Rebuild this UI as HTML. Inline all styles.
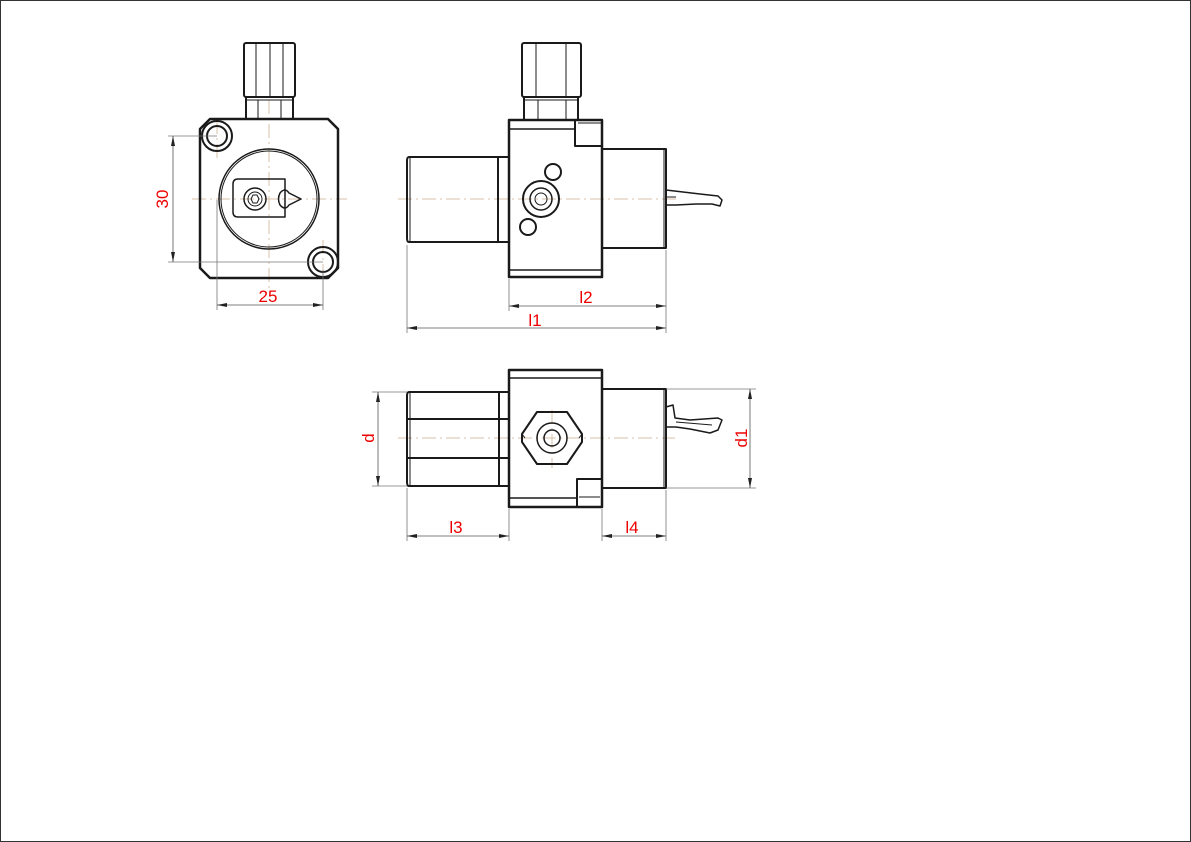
<!DOCTYPE html>
<html><head><meta charset="utf-8"><style>
html,body{margin:0;padding:0;background:#fff}
svg{display:block}
text{font-family:"Liberation Sans",sans-serif;fill:#e00;font-size:17px}
</style></head><body>
<svg width="1191" height="842" viewBox="0 0 1191 842" xmlns="http://www.w3.org/2000/svg">
<rect x="0.5" y="0.5" width="1190" height="841" fill="none" stroke="#333" stroke-width="1"/>
<defs>
<marker id="a" viewBox="0 0 10 4" refX="10" refY="2" markerWidth="10" markerHeight="4" orient="auto-start-reverse" markerUnits="userSpaceOnUse"><path d="M0,0L10,2L0,4z" fill="#222"/></marker>
</defs>
<!-- centerlines -->
<g stroke="#d9c0a8" stroke-width="1" stroke-dasharray="14,4,2,4" fill="none">
<line x1="192" y1="199" x2="347" y2="199"/>
<line x1="269" y1="100" x2="269" y2="292"/>
<line x1="217" y1="120" x2="217" y2="160"/>
<line x1="323" y1="240" x2="323" y2="282"/>
<line x1="398" y1="199" x2="680" y2="199"/>
<line x1="398" y1="438" x2="675" y2="438"/>
<line x1="552" y1="410" x2="552" y2="468"/>
</g>
<g stroke="#1a1a1a" stroke-width="2" fill="none" stroke-linejoin="round">
<!-- VIEW 1 -->
<rect x="244" y="43" width="51" height="54" rx="2"/>
<line x1="256" y1="43" x2="256" y2="97" stroke-width="1"/><line x1="270" y1="43" x2="270" y2="97" stroke-width="1"/><line x1="283" y1="43" x2="283" y2="97" stroke-width="1"/>
<rect x="246" y="97" width="47" height="22"/>
<line x1="246" y1="100" x2="293" y2="100" stroke-width="1"/>
<line x1="258" y1="100" x2="258" y2="119" stroke-width="1"/><line x1="281" y1="100" x2="281" y2="119" stroke-width="1"/>
<path d="M210,119H328L338,129V268L328,278H210L200,268V129Z" stroke-width="2.5"/>
<circle cx="217" cy="136" r="15"/><circle cx="217" cy="136" r="10"/>
<circle cx="323" cy="262" r="15"/><circle cx="323" cy="262" r="10"/>
<circle cx="269" cy="199" r="50" stroke-width="1.5"/><circle cx="269" cy="199" r="48" stroke-width="1"/>
<path d="M238,179H285V217H238Q233,217 233,212V184Q233,179 238,179Z" stroke-width="1.5"/>
<circle cx="255" cy="199" r="11" stroke-width="1.5"/><circle cx="255" cy="199" r="7" stroke-width="1"/>
<path d="M251,199L253,195H257L259,199L257,203H253Z" stroke-width="1"/>
<path d="M280,193Q285,187 289,193L301,199L289,205Q285,211 280,205Q277,199 280,193Z" stroke-width="1.5"/>
<!-- VIEW 2 -->
<rect x="522" y="43" width="59" height="54" rx="2"/>
<line x1="536" y1="43" x2="536" y2="97" stroke-width="1"/><line x1="566" y1="43" x2="566" y2="97" stroke-width="1"/>
<rect x="524" y="97" width="54" height="23"/>
<line x1="524" y1="100" x2="578" y2="100" stroke-width="1"/>
<line x1="538" y1="100" x2="538" y2="120" stroke-width="1"/><line x1="566" y1="100" x2="566" y2="120" stroke-width="1"/>
<rect x="509" y="120" width="93" height="157" stroke-width="2.5"/>
<line x1="509" y1="129" x2="575" y2="129" stroke-width="1.5"/>
<line x1="509" y1="270" x2="602" y2="270" stroke-width="1.5"/>
<path d="M575,120V146H602" />
<line x1="578" y1="123" x2="602" y2="123" stroke-width="1"/>
<path d="M409,157H498V242H409Q407,242 407,238V161Q407,157 409,157Z"/>
<line x1="410" y1="158" x2="410" y2="241" stroke-width="1"/>
<rect x="498" y="157" width="11" height="85"/>
<rect x="602" y="149" width="64" height="99"/>
<line x1="664" y1="149" x2="664" y2="248" stroke-width="1"/>
<path d="M666,190L700,194L718,196L722,200L720,206L712,204L696,204L676,205L666,205" stroke-width="1.5"/>
<line x1="666" y1="197" x2="676" y2="197" stroke-width="1"/>
<circle cx="553" cy="172" r="8"/>
<circle cx="541" cy="199" r="18"/><circle cx="541" cy="199" r="11" stroke-width="1.5"/><circle cx="541" cy="199" r="6" stroke-width="1"/>
<circle cx="528" cy="227" r="8"/>
<!-- VIEW 3 -->
<rect x="509" y="370" width="93" height="137" stroke-width="2.5"/>
<line x1="509" y1="378" x2="602" y2="378" stroke-width="1.5"/>
<path d="M577,507V479H602"/>
<line x1="509" y1="498" x2="577" y2="498" stroke-width="1.5"/>
<line x1="579" y1="497" x2="600" y2="497" stroke-width="1"/>
<path d="M409,392H499V486H409Q407,486 407,482V396Q407,392 409,392Z"/>
<line x1="410" y1="393" x2="410" y2="485" stroke-width="1"/>
<line x1="407" y1="419" x2="499" y2="419"/><line x1="407" y1="458" x2="499" y2="458"/>
<rect x="499" y="392" width="10" height="27"/><rect x="499" y="458" width="10" height="28"/>
<rect x="602" y="389" width="64" height="99"/>
<line x1="664" y1="389" x2="664" y2="488" stroke-width="1"/>
<path d="M537,412H567L582,434V442L567,464H537L522,442V434Z"/>
<line x1="522" y1="434" x2="525" y2="438" stroke-width="1"/><line x1="582" y1="434" x2="579" y2="438" stroke-width="1"/>
<circle cx="552" cy="438" r="15" stroke-width="1.5"/><circle cx="552" cy="438" r="8" stroke-width="1.5"/>
<path d="M666,407L673,405L675,418L690,420L718,418L722,420L718,430L710,433L690,429L676,427L666,427" stroke-width="1.5"/>
<line x1="676" y1="422" x2="712" y2="425" stroke-width="1"/>
</g>
<!-- dimensions -->
<g stroke="#777" stroke-width="0.8" fill="none">
<line x1="168" y1="136" x2="217" y2="136"/><line x1="168" y1="262" x2="323" y2="262"/>
<line x1="217" y1="200" x2="217" y2="310"/><line x1="323" y1="270" x2="323" y2="310"/>
<line x1="407" y1="245" x2="407" y2="333"/><line x1="509" y1="279" x2="509" y2="311"/><line x1="666" y1="250" x2="666" y2="333"/>
<line x1="372" y1="392" x2="407" y2="392"/><line x1="372" y1="486" x2="407" y2="486"/>
<line x1="666" y1="389" x2="756" y2="389"/><line x1="666" y1="488" x2="756" y2="488"/>
<line x1="407" y1="488" x2="407" y2="541"/><line x1="509" y1="509" x2="509" y2="541"/>
<line x1="602" y1="509" x2="602" y2="541"/><line x1="666" y1="490" x2="666" y2="541"/>
</g>
<g stroke="#555" stroke-width="0.8" fill="none" marker-start="url(#a)" marker-end="url(#a)">
<line x1="173" y1="136" x2="173" y2="262"/>
<line x1="217" y1="305" x2="323" y2="305"/>
<line x1="509" y1="306" x2="666" y2="306"/>
<line x1="407" y1="328" x2="666" y2="328"/>
<line x1="378" y1="392" x2="378" y2="486"/>
<line x1="750" y1="389" x2="750" y2="488"/>
<line x1="407" y1="536" x2="509" y2="536"/>
<line x1="602" y1="536" x2="666" y2="536"/>
</g>
<text x="168" y="199" text-anchor="middle" transform="rotate(-90 168 199)">30</text>
<text x="268" y="302" text-anchor="middle">25</text>
<text x="586" y="303" text-anchor="middle">l2</text>
<text x="535" y="326" text-anchor="middle">l1</text>
<text x="374" y="438" text-anchor="middle" transform="rotate(-90 374 438)">d</text>
<text x="747" y="438" text-anchor="middle" transform="rotate(-90 747 438)">d1</text>
<text x="456" y="533" text-anchor="middle">l3</text>
<text x="632" y="533" text-anchor="middle">l4</text>
</svg>
</body></html>
